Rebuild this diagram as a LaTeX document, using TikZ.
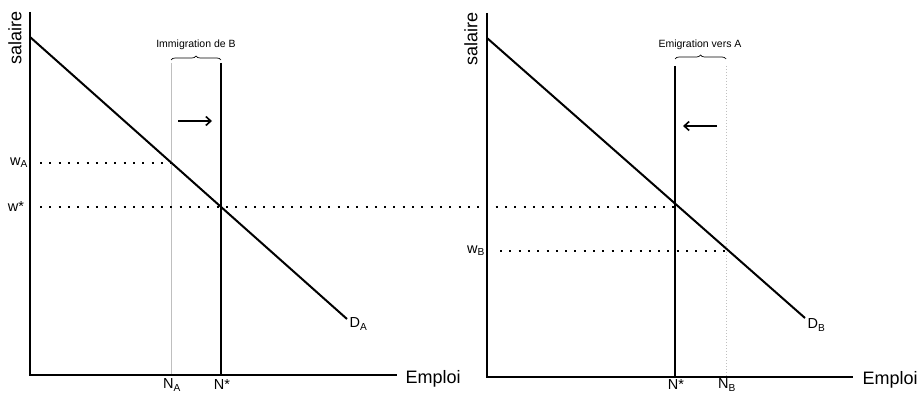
\documentclass[tikz,border=0pt]{standalone}
\usepackage{fontspec}
\setmainfont{Liberation Sans}
\usetikzlibrary{decorations.pathreplacing,arrows.meta}

\newcommand{\axisfont}{\fontsize{18}{20}\selectfont}
\newcommand{\labfont}{\fontsize{14.5}{16}\selectfont}
\newcommand{\notefont}{\fontsize{10.5}{12}\selectfont}

\begin{document}
\begin{tikzpicture}[x=1pt,y=-1pt,
  axis/.style={line width=2pt},
  demand/.style={line width=2pt},
  eqline/.style={line width=2.4pt},
  oldline/.style={line width=1pt,black!25},
  wageline/.style={line width=2pt,dash pattern=on 2pt off 7.3pt},
  shiftarrow/.style={line width=1.6pt,-{Straight Barb[length=5pt,width=9pt]}},
  brc/.style={decorate,decoration={brace,amplitude=4pt},line width=0.7pt}]
\useasboundingbox (0,0) rectangle (923,393);
% (A)
\begin{scope}
\coordinate (oA) at (30,375);
\coordinate (yA) at (30,12);
\coordinate (xA) at (397,375);
\coordinate (dA0) at (30,37);
\coordinate (dA1) at (347,319);
\coordinate (nA0) at (171,63); \coordinate (nA1) at (171,375);
\coordinate (sA0) at (221,63); \coordinate (sA1) at (221,375);
\draw[oldline] (nA0) -- (nA1);
\draw[eqline] (sA0) -- (sA1);
\draw[axis] (yA) -- (oA) -- (xA);
\draw[demand] (dA0) -- (dA1);
\draw[wageline] (40,163) -- (171,163);
\draw[brc] (171,60) -- (221,60);
\node[font=\notefont] (immig) at (196,45) {Immigration de B};
\draw[shiftarrow] (178,121) -- (212,121);
\node[font=\axisfont,rotate=90] (salA) at (15,38) {salaire};
\node[font=\axisfont,anchor=west] (empA) at (402,379) {Emploi};
\node[font=\labfont] (wA) at (19,163) {w\textsubscript{A}};
\node[font=\labfont] (wS) at (16,207) {w*};
\node[font=\labfont] (NA) at (172,385) {N\textsubscript{A}};
\node[font=\labfont] (NSA) at (222,385) {N*};
\node[font=\labfont,anchor=west] (DA) at (346,324) {D\textsubscript{A}};
\end{scope}
% equilibrium wage, across both panels
\draw[wageline] (40,207) -- (675,207);
% (B)
\begin{scope}
\coordinate (oB) at (487,377);
\coordinate (yB) at (487,13);
\coordinate (xB) at (853,377);
\coordinate (dB0) at (487,38);
\coordinate (dB1) at (805,318);
\coordinate (nB0) at (726,66); \coordinate (nB1) at (726,377);
\coordinate (sB0) at (675,66); \coordinate (sB1) at (675,377);
\draw[oldline,dotted] (nB0) -- (nB1);
\draw[eqline] (sB0) -- (sB1);
\draw[axis] (yB) -- (oB) -- (xB);
\draw[demand] (dB0) -- (dB1);
\draw[wageline] (500,251) -- (726,251);
\draw[brc] (675,59) -- (726,59);
\node[font=\notefont] (emig) at (700,45) {Emigration vers A};
\draw[shiftarrow] (717,126) -- (683,126);
\node[font=\axisfont,rotate=90] (salB) at (471,39) {salaire};
\node[font=\axisfont,anchor=west] (empB) at (859,380) {Emploi};
\node[font=\labfont] (wB) at (476,251) {w\textsubscript{B}};
\node[font=\labfont] (NSB) at (676,385) {N*};
\node[font=\labfont] (NB) at (727,385) {N\textsubscript{B}};
\node[font=\labfont,anchor=west] (DB) at (804,325) {D\textsubscript{B}};
\end{scope}
\end{tikzpicture}
\end{document}
